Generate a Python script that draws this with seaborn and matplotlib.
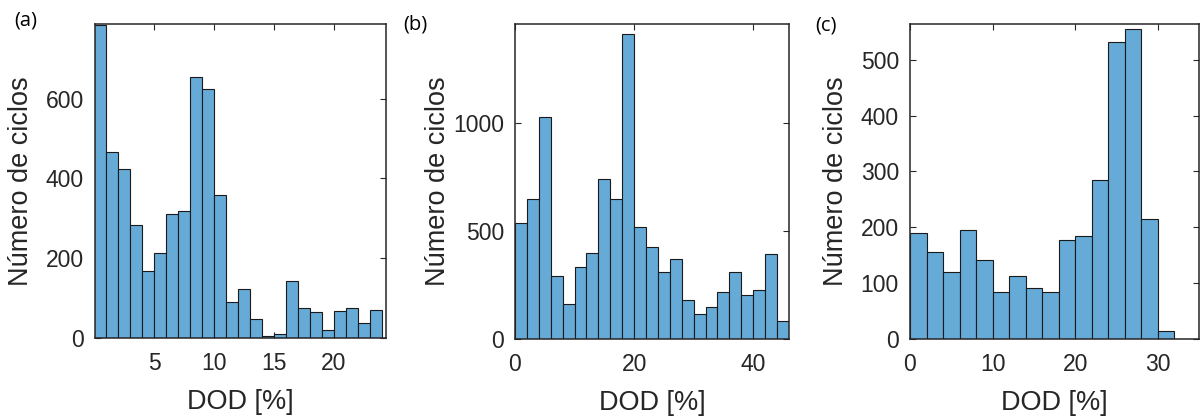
import pandas as pd
import matplotlib.pyplot as plt
import seaborn as sns

# counts per bin
counts_a = [785, 467, 423, 284, 167, 213, 310, 318, 655, 624, 359, 89,
            122, 48, 4, 9, 144, 74, 64, 19, 68, 74, 38, 69]
counts_b = [538, 648, 1025, 289, 162, 331, 397, 740, 646, 1408, 517, 423,
            308, 371, 180, 115, 149, 218, 309, 202, 228, 394, 85]
counts_c = [190, 156, 120, 195, 141, 85, 112, 92, 85, 177, 184, 285,
            531, 555, 215, 15]

width_a, width_b, width_c = 1, 2, 2
panel_labels = ["(a)", "(b)", "(c)"]

sns.set_theme(style="ticks")
plt.rcParams["font.family"] = ["Liberation Sans", "DejaVu Sans"]
ink = "#262626"
plt.rcParams.update({"text.color": ink, "axes.labelcolor": ink,
                     "xtick.color": ink, "ytick.color": ink,
                     "axes.edgecolor": ink})

fig = plt.figure(figsize=(12.01, 4.16), dpi=100)

panels = [
    (counts_a, width_a, [0.0791, 0.1875, 0.2423, 0.7548], (0.05, 24.35), (0, 787), [5, 10, 15, 20], [0, 200, 400, 600]),
    (counts_b, width_b, [0.4288, 0.1851, 0.2281, 0.7572], (0, 46), (0, 1455), [0, 20, 40], [0, 500, 1000]),
    (counts_c, width_c, [0.7577, 0.1851, 0.2406, 0.7572], (0, 35), (0, 564), [0, 10, 20, 30], [0, 100, 200, 300, 400, 500]),
]
label_pos = [(0.0115, 0.950), (0.3355, 0.942), (0.679, 0.938)]

for i, (counts, w, rect, xl, yl, xt, yt) in enumerate(panels):
    ax = fig.add_axes(rect)
    edges = [k * w for k in range(len(counts) + 1)]
    df = pd.DataFrame({"dod": [e + w / 2 for e in edges[:-1]], "n": counts})
    sns.histplot(data=df, x="dod", weights="n", bins=edges, ax=ax,
                 color="#66AAD7", alpha=1, edgecolor="#1a1a1a", linewidth=0.8)
    ax.set_xlim(*xl)
    ax.set_ylim(*yl)
    ax.set_xticks(xt)
    ax.set_yticks(yt)
    for s in ax.spines.values():
        s.set_visible(True)
        s.set_linewidth(1.1)
    ax.tick_params(direction="in", top=True, right=True, length=4, width=0.8,
                   labelsize=16.5)
    ax.tick_params(axis="x", pad=10)
    ax.tick_params(axis="y", pad=8)
    ax.set_xlabel("DOD [%]", fontsize=19.5)
    ax.set_ylabel("Número de ciclos", fontsize=19.5)
    ax.xaxis.set_label_coords(0.5, -0.163)
    ax.yaxis.set_label_coords(-0.21 if i != 1 else -0.235, 0.5)
    fig.text(label_pos[i][0], label_pos[i][1], panel_labels[i],
             family=["Open Sans", "DejaVu Sans"], fontsize=14.5,
             color="black", va="center")

fig.savefig("out.png", dpi=100)
